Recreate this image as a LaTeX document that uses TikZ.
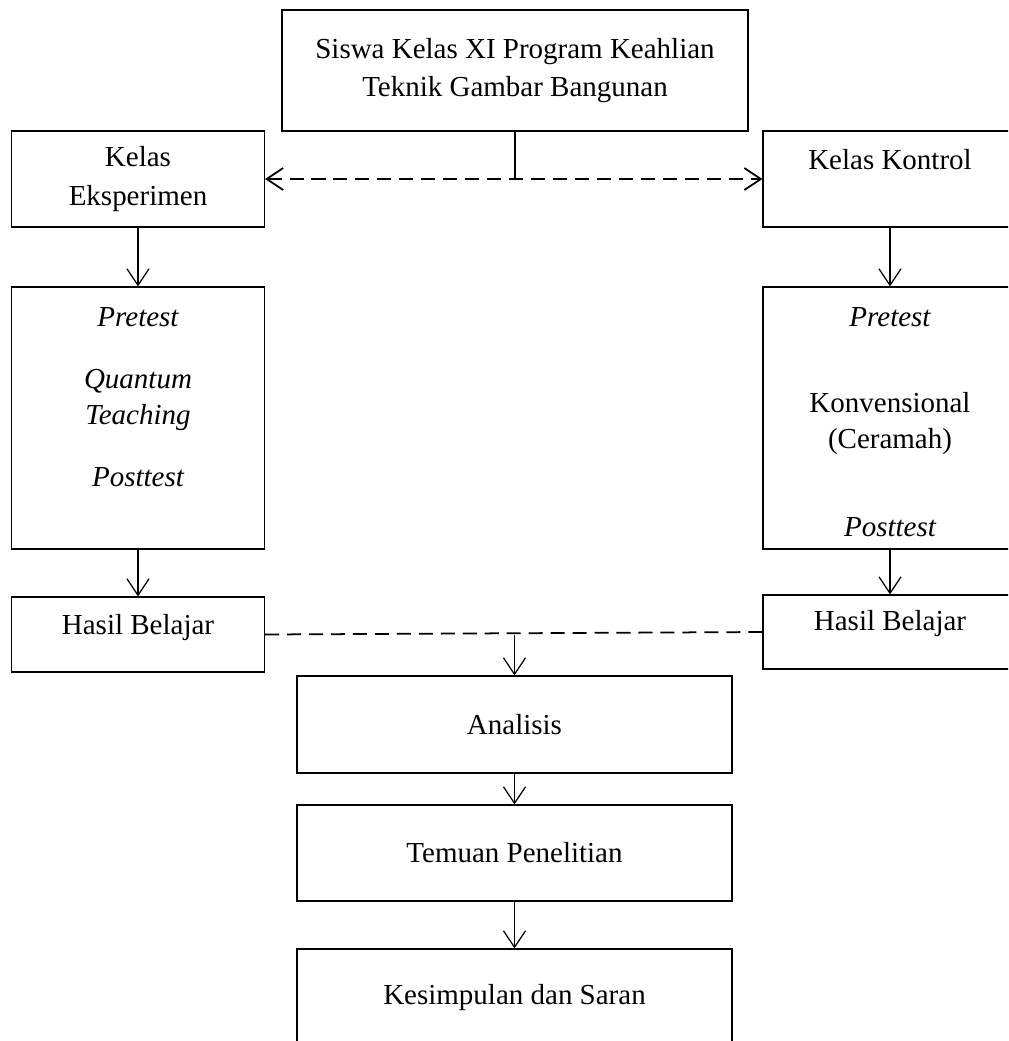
\documentclass[tikz,border=0pt]{standalone}
\usepackage{fontspec}
\setmainfont{Liberation Serif}
\usetikzlibrary{arrows.meta}

\tikzset{
 kotak/.style={draw,line width=0.7pt,rectangle,inner sep=0pt,align=center},
 panah/.style={line width=0.7pt,-{Straight Barb[length=3.3mm,width=4.4mm]}},
 putus/.style={line width=1pt,dash pattern=on 8pt off 4.5pt},
 teks/.style={inner sep=0pt,align=center}
}

\begin{document}
\begin{tikzpicture}[x=0.02cm,y=-0.02cm,font=\fontsize{16.5}{20.5}\selectfont]
 \clip (0,0) rectangle (1008,1041);
 % kotak-kotak
 \node[kotak,minimum width=9.32cm,minimum height=2.42cm] (siswa) at (515,70.5) {Siswa Kelas XI Program Keahlian\\[1.5pt]Teknik Gambar Bangunan};
 \node[kotak,minimum width=5.06cm,minimum height=1.92cm] (eksp) at (138,179) {Kelas\\[1.5pt]Eksperimen};
 \node[kotak,minimum width=5.08cm,minimum height=1.92cm] (kontrol) at (890,179) {};
 \node[kotak,minimum width=5.06cm,minimum height=5.24cm] (perlA) at (138,418) {};
 \node[kotak,minimum width=5.08cm,minimum height=5.24cm] (perlB) at (890,418) {};
 \node[kotak,minimum width=5.06cm,minimum height=1.5cm] (hasilA) at (138,634.5) {};
 \node[kotak,minimum width=5.08cm,minimum height=1.48cm] (hasilB) at (890,632) {};
 \node[kotak,minimum width=8.7cm,minimum height=1.94cm] (analisis) at (514.5,724.5) {Analisis};
 \node[kotak,minimum width=8.7cm,minimum height=1.92cm] (temuan) at (514.5,853) {Temuan Penelitian};
 \node[kotak,minimum width=8.7cm,minimum height=1.96cm] (simpulan) at (514.5,998) {Kesimpulan dan Saran};
 % isi kotak
 \node[teks] (tkontrol) at (890,160) {Kelas Kontrol};
 \node[teks] (preA) at (138,317) {\itshape Pretest};
 \node[teks] (quantum) at (138,400) {\itshape Quantum\\\itshape Teaching};
 \node[teks] (postA) at (138,477) {\itshape Posttest};
 \node[teks] (preB) at (890,317) {\itshape Pretest};
 \node[teks] (konv) at (890,424) {Konvensional\\(Ceramah)};
 \node[teks] (postB) at (890,527) {\itshape Posttest};
 \node[teks] (thasilA) at (138,628) {Hasil Belajar};
 \node[teks] (thasilB) at (890,624) {Hasil Belajar};
 % garis
 \coordinate (pisah) at (siswa.south |- eksp.east);
 \coordinate (gabung) at (hasilA.east -| analisis.north);
 \draw[line width=0.7pt] (siswa.south) -- (pisah);
 \draw[putus,{Straight Barb[length=3.3mm,width=4.4mm]}-{Straight Barb[length=3.3mm,width=4.4mm]}] (eksp.east) -- (kontrol.west);
 \draw[panah] (eksp.south) -- (perlA.north);
 \draw[panah] (kontrol.south) -- (perlB.north);
 \draw[panah] (perlA.south) -- (hasilA.north);
 \draw[panah] (perlB.south) -- (hasilB.north);
 \draw[putus] (hasilA.east) -- (hasilB.west);
 \draw[panah] (gabung) -- (analisis.north);
 \draw[panah] (analisis.south) -- (temuan.north);
 \draw[panah] (temuan.south) -- (simpulan.north);
\end{tikzpicture}
\end{document}
